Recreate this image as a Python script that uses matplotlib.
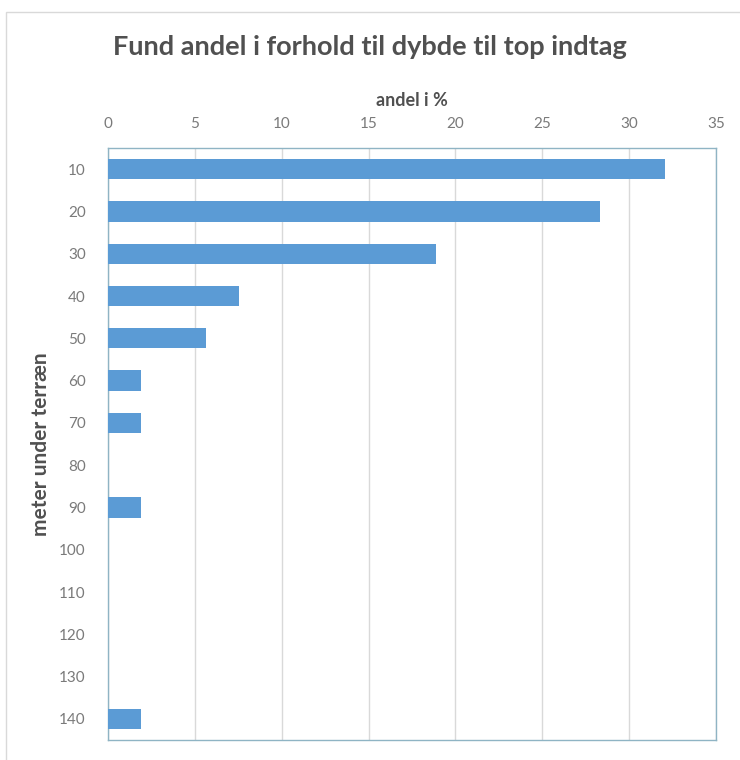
import numpy as np
import matplotlib.pyplot as plt
from matplotlib.patches import Rectangle

# depth to top of intake (m) and share of finds (%)
depths = ['10', '20', '30', '40', '50', '60', '70', '80', '90', '100', '110', '120', '130', '140']
andel = [32.08, 28.30, 18.87, 7.55, 5.66, 1.89, 1.89, 0, 1.89, 0, 0, 0, 0, 1.89]

plt.rcParams['font.family'] = ['Lato', 'DejaVu Sans']

fig = plt.figure(figsize=(7.4, 7.6), dpi=100)
fig.patches.append(Rectangle((6 / 740, -0.01), 1.0, 1 - 12 / 760 + 0.01, transform=fig.transFigure,
                             fill=False, edgecolor='#d9d9d9', linewidth=1))
ax = fig.add_axes([108 / 740, 20 / 760, 608 / 740, 592 / 760])

y = np.arange(len(depths))
ax.barh(y, andel, height=0.48, color='#5b9bd5', zorder=3)

ax.set_xlim(0, 35)
ax.set_ylim(len(depths) - 0.5, -0.5)
ax.set_yticks(y)
ax.set_yticklabels(depths)
ax.set_xticks(np.arange(0, 36, 5))
ax.xaxis.tick_top()
ax.xaxis.set_label_position('top')
ax.grid(axis='x', color='#d9d9d9', linewidth=1, zorder=0)
ax.tick_params(length=0, labelsize=11, colors='#7a7a7a', pad=12)
ax.tick_params(axis='y', pad=16)
for s in ax.spines.values():
    s.set_color('#8fb4c4')
    s.set_linewidth(1)

ax.set_xlabel('andel i %', fontsize=13, fontweight='bold', color='#505050', labelpad=8)
ax.set_ylabel('meter under terræn', fontsize=15, fontweight='bold', color='#505050', labelpad=6)
fig.text(0.5, 1 - 47 / 760, 'Fund andel i forhold til dybde til top indtag', ha='center', va='center',
         fontsize=19.5, fontweight='bold', color='#505050')

fig.savefig('out.png', dpi=100)
